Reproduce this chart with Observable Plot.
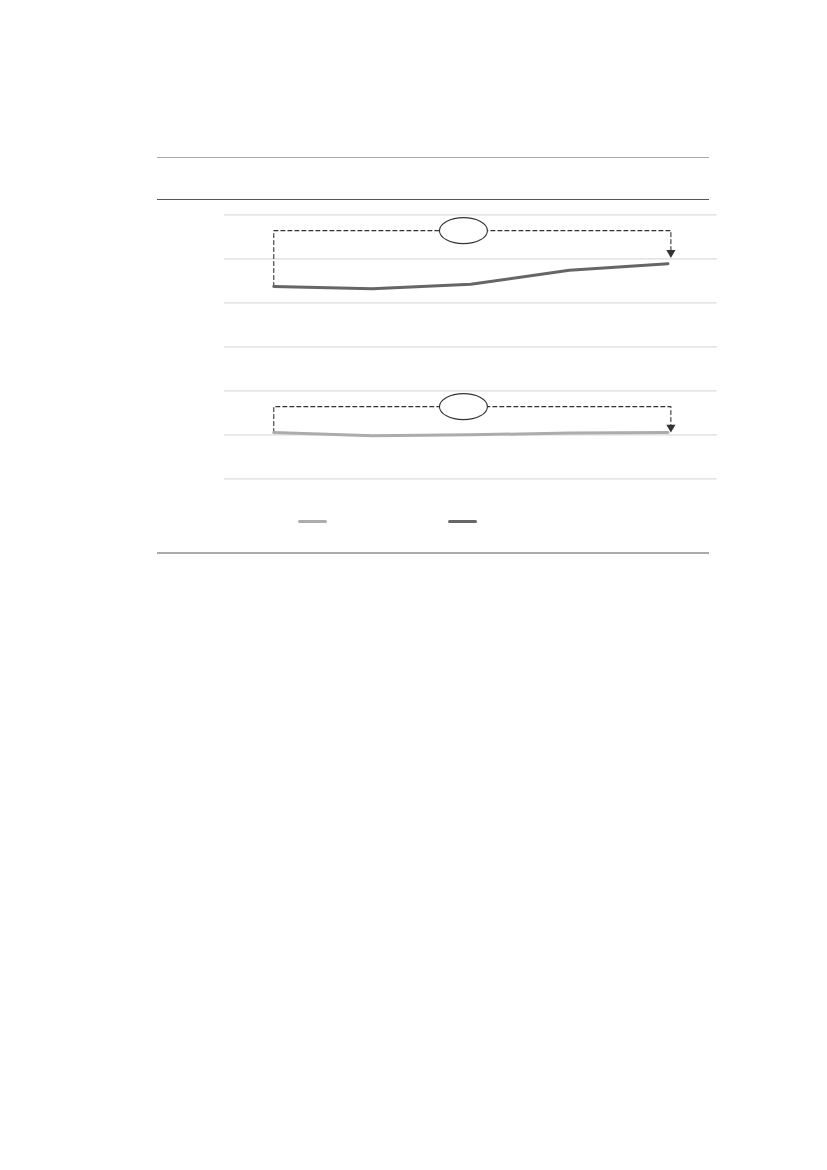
<!DOCTYPE html>
<html><head><meta charset="utf-8">
<script src="https://cdn.jsdelivr.net/npm/d3@7"></script>
<script src="https://cdn.jsdelivr.net/npm/@observablehq/plot@0.6"></script>
<style>
html,body{margin:0;padding:0;background:#fff;}
#page{position:relative;width:827px;height:1170px;font-family:"Liberation Sans",Arial,sans-serif;}
.rule{position:absolute;left:157px;width:552px;height:0;}
#chart{position:absolute;left:0;top:0;}
.sw{position:absolute;height:3px;border-radius:2px;width:29px;}
</style></head><body>
<div id="page">
<div class="rule" style="top:156.6px;border-top:1.3px solid #aaa"></div>
<div class="rule" style="top:198.5px;border-top:1.6px solid #555"></div>
<div id="chart"></div>
<div class="sw" style="left:298px;top:519.5px;background:#acacac"></div>
<div class="sw" style="left:448px;top:519.5px;background:#666"></div>
<div class="rule" style="top:552px;border-top:2px solid #aaa"></div>
</div>
<script>
// ---- data ----
const periods = [0, 1, 2, 3, 4];
const darkSeries = [43.7, 43.2, 44.2, 47.4, 48.9];
const lightSeries = [10.5, 9.8, 10.0, 10.4, 10.5];
const yTicks = [0, 10, 20, 30, 40, 50, 60];
const bracketNames = ["dark", "light"];
const bracketTop = [56.4, 16.4];
const arrowHead = [51.4, 11.7];
const bracketStart = [darkSeries[0], lightSeries[0]];
const bracketEndX = 4.03;
const ovalX = 1.925;

const series = [
  ...periods.map((p, i) => ({x: p, y: lightSeries[i], s: "light"})),
  ...periods.map((p, i) => ({x: p, y: darkSeries[i], s: "dark"}))
];
const brackets = bracketNames.flatMap((n, i) => [
  {x: periods[0], y: bracketStart[i], z: n},
  {x: periods[0], y: bracketTop[i], z: n},
  {x: bracketEndX, y: bracketTop[i], z: n},
  {x: bracketEndX, y: arrowHead[i], z: n}
]);
const heads = bracketNames.map((n, i) => ({x: bracketEndX, y: arrowHead[i]}));
const ovals = bracketNames.map((n, i) => ({x: ovalX, y: bracketTop[i]}));

const ellipse = {draw(ctx) {
  const rx = 24, ry = 13, k = 0.5523;
  ctx.moveTo(rx, 0);
  ctx.bezierCurveTo(rx, ry * k, rx * k, ry, 0, ry);
  ctx.bezierCurveTo(-rx * k, ry, -rx, ry * k, -rx, 0);
  ctx.bezierCurveTo(-rx, -ry * k, -rx * k, -ry, 0, -ry);
  ctx.bezierCurveTo(rx * k, -ry, rx, -ry * k, rx, 0);
  ctx.closePath();
}};

const chart = Plot.plot({
  width: 827, height: 500,
  marginLeft: 224, marginRight: 110.3, marginTop: 214.3, marginBottom: 21.7,
  x: {type: "linear", domain: [-0.5, 4.5], axis: null},
  y: {domain: [0, 60], axis: null},
  color: {domain: ["light", "dark"], range: ["#acacac", "#666666"]},
  marks: [
    Plot.gridY(yTicks, {stroke: "#dcdcdc", strokeOpacity: 1, strokeWidth: 1.3}),
    Plot.line(brackets, {x: "x", y: "y", z: "z", stroke: "#333", strokeWidth: 1.1, strokeDasharray: "4,3", curve: "linear"}),
    Plot.line(series, {x: "x", y: "y", z: "s", stroke: "s", strokeWidth: 3, strokeLinecap: "round"}),
    Plot.dot(ovals, {x: "x", y: "y", symbol: ellipse, fill: "white", stroke: "#333", strokeWidth: 1.1}),
    Plot.dot(heads, {x: "x", y: "y", symbol: "triangle", r: 3.4, rotate: 180, fill: "#333", stroke: "none"})
  ]
});
document.getElementById("chart").appendChild(chart);
</script>
</body></html>
